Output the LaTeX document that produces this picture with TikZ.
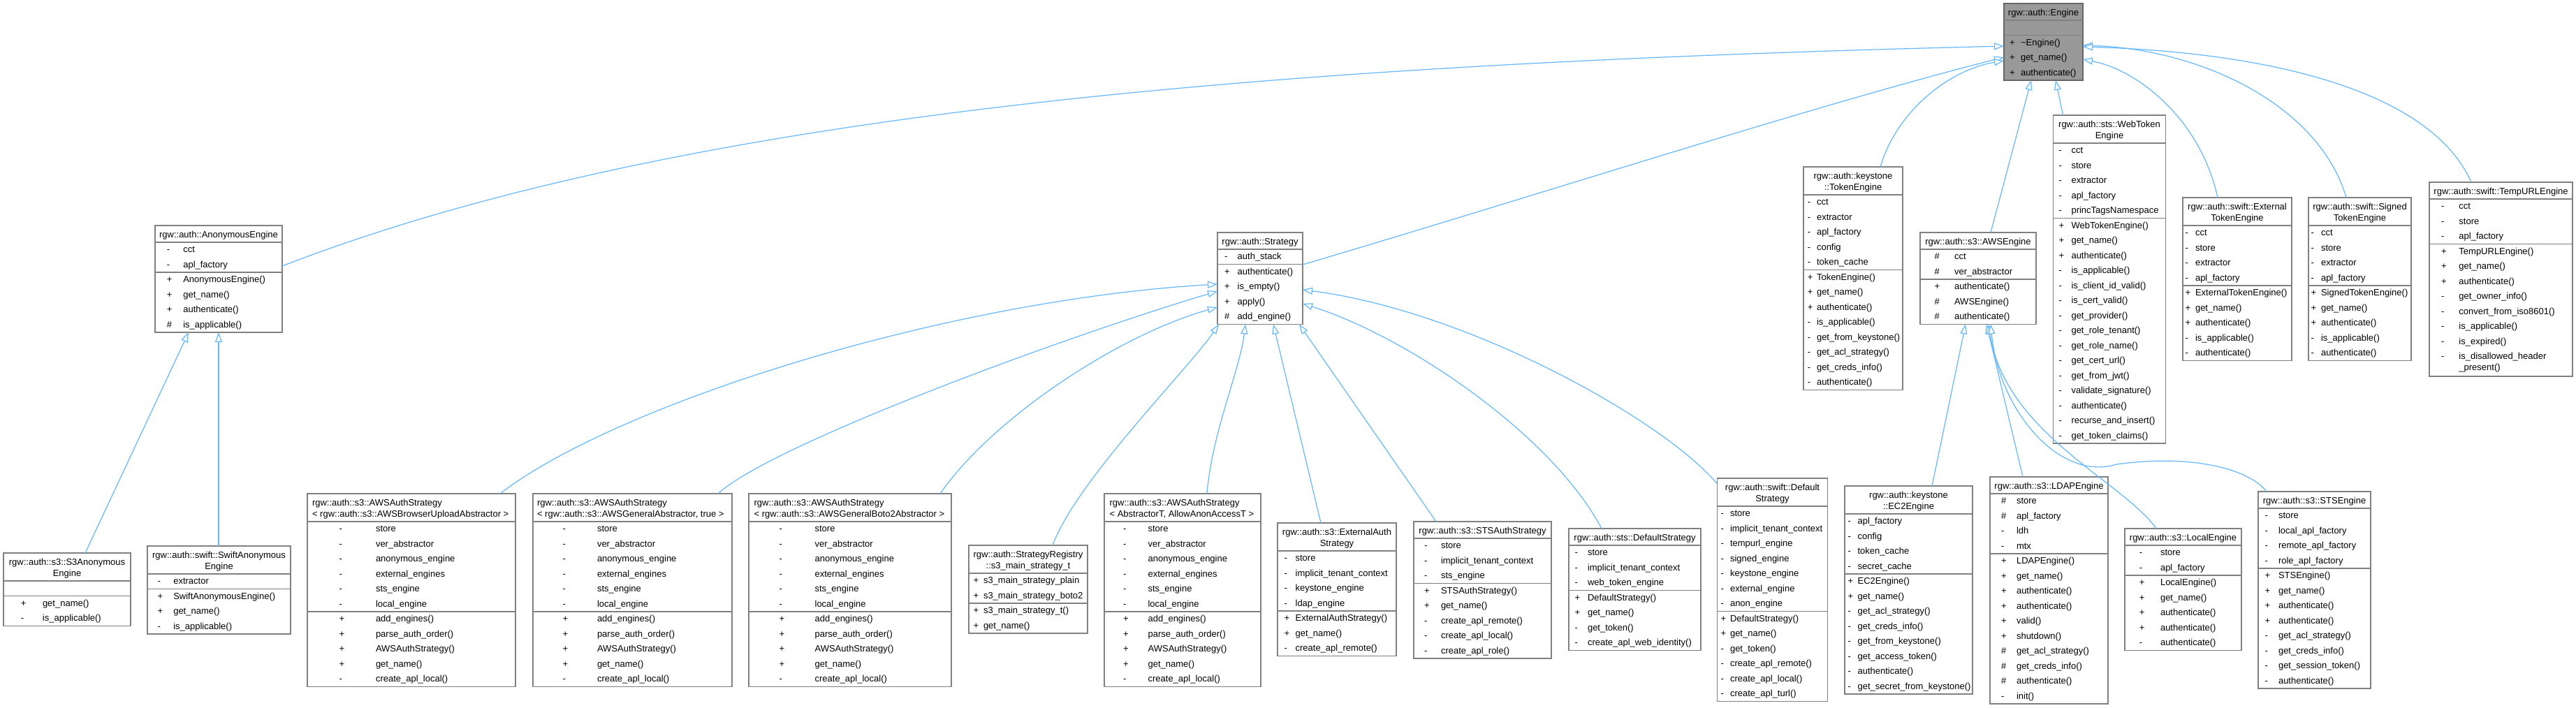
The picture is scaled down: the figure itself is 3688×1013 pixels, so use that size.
\documentclass[tikz,border=0pt]{standalone}
\usepackage{fontspec}
\setmainfont{Liberation Sans}
\usetikzlibrary{arrows.meta,calc}
\definecolor{edgec}{HTML}{63B8FF}
\definecolor{boxc}{HTML}{808080}
\definecolor{engfill}{HTML}{999999}
\definecolor{engborder}{HTML}{666666}
\tikzset{
 clsnode/.style={draw=boxc, line width=1.3pt, fill=white, inner sep=0pt, outer sep=0pt, rectangle},
 sepline/.style={draw=boxc, line width=1.3pt},
 txt/.style={inner sep=0pt, outer sep=0pt, font=\fontsize{13}{16}\selectfont, text=black},
 inh/.style={draw=edgec, line width=1.2pt, -{Triangle[fill=white, length=14pt, width=10pt]}},
}
% id, x, top, width, title height, nA, nM, extra height, extra style
\newcommand\clsbox[9]{%
  \def\cid{#1}\def\cx{#2}\def\ctop{#3}\def\cw{#4}%
  \pgfmathsetmacro\cnA{max(#6,1)}%
  \pgfmathsetmacro\cattrY{#3+#5}%
  \pgfmathsetmacro\cmethY{#3+#5+21.5*\cnA}%
  \pgfmathsetmacro\cH{#5+21.5*\cnA+21.5*#7+#8}%
  \node[clsnode, #9, minimum width=#4pt, minimum height=\cH pt, anchor=north west] (#1) at (#2,#3) {};
  \draw[sepline] (#2,\cattrY) -- ++(#4,0);
  \draw[sepline] (#2,\cmethY) -- ++(#4,0);
}
\newcommand\ttlS[1]{\node[txt, anchor=base] (\cid-t) at ({\cx+\cw/2},{\ctop+17}) {#1};}
\newcommand\ttlC[2]{%
  \node[txt, anchor=base] (\cid-t) at ({\cx+\cw/2},{\ctop+17.5}) {#1};
  \node[txt, anchor=base] (\cid-u) at ({\cx+\cw/2},{\ctop+33.5}) {#2};}
\newcommand\ttlL[3]{%
  \node[txt, anchor=base west] (\cid-t) at (#1,{\ctop+17.5}) {#2};
  \node[txt, anchor=base west] (\cid-u) at (#1,{\ctop+33.5}) {#3};}
\newcommand\attrs[3]{%
  \pgfmathsetmacro\cgap{#2-#1+3.5}%
  \foreach \sy/\nm [count=\i] in {#3} {
    \node[txt, anchor=base west] (\cid-a\i) at ({#1-3.5},{\cattrY+14.5+21.5*(\i-1)}) {\makebox[\cgap pt][l]{\sy}\nm};
  }}
\newcommand\meths[3]{%
  \pgfmathsetmacro\cgap{#2-#1+3.5}%
  \foreach \sy/\nm [count=\i] in {#3} {
    \node[txt, anchor=base west] (\cid-m\i) at ({#1-3.5},{\cmethY+14.5+21.5*(\i-1)}) {\makebox[\cgap pt][l]{\sy}\nm};
  }}
\begin{document}
\begin{tikzpicture}[x=1pt,y=-1pt]
\fill[white] (0,0) rectangle (3688,1013);
\useasboundingbox (0,0) rectangle (3688,1013);

% Engine
\clsbox{eng}{2869}{5}{113}{24}{0}{3}{0}{fill=engfill, draw=engborder}
\ttlS{rgw::auth::Engine}
\meths{2880.5}{2893}{+/\textasciitilde{}Engine(),+/get\_name(),+/authenticate()}

% AnonymousEngine
\clsbox{anon}{222}{323}{182}{24}{2}{4}{0}{}
\ttlS{rgw::auth::AnonymousEngine}
\attrs{242.3}{262.3}{-/cct,-/apl\_factory}
\meths{242.3}{262.3}{+/AnonymousEngine(),+/get\_name(),+/authenticate(),\#/is\_applicable()}

\clsbox{s3anon}{5}{792}{182}{40}{0}{2}{0}{}
\ttlC{rgw::auth::s3::S3Anonymous}{Engine}
\meths{33.3}{61}{+/get\_name(),-/is\_applicable()}

\clsbox{swanon}{211}{782}{205}{40}{1}{3}{0}{}
\ttlC{rgw::auth::swift::SwiftAnonymous}{Engine}
\attrs{229}{248.3}{-/extractor}
\meths{229}{248.3}{+/SwiftAnonymousEngine(),+/get\_name(),-/is\_applicable()}

% Strategy
\clsbox{strat}{1743}{333}{122}{24}{1}{4}{0}{}
\ttlS{rgw::auth::Strategy}
\attrs{1756.7}{1771.7}{-/auth\_stack}
\meths{1756.7}{1771.7}{+/authenticate(),+/is\_empty(),+/apply(),\#/add\_engine()}

\clsbox{awsb}{440}{707}{298}{40}{6}{5}{0}{}
\ttlL{447}{rgw::auth::s3::AWSAuthStrategy}{< rgw::auth::s3::AWSBrowserUploadAbstractor >}
\attrs{489}{538}{-/store,-/ver\_abstractor,-/anonymous\_engine,-/external\_engines,-/sts\_engine,-/local\_engine}
\meths{489}{538}{+/add\_engines(),+/parse\_auth\_order(),+/AWSAuthStrategy(),+/get\_name(),-/create\_apl\_local()}

\clsbox{awsg}{763}{707}{285}{40}{6}{5}{0}{}
\ttlL{769}{rgw::auth::s3::AWSAuthStrategy}{< rgw::auth::s3::AWSGeneralAbstractor, true >}
\attrs{809}{855}{-/store,-/ver\_abstractor,-/anonymous\_engine,-/external\_engines,-/sts\_engine,-/local\_engine}
\meths{809}{855}{+/add\_engines(),+/parse\_auth\_order(),+/AWSAuthStrategy(),+/get\_name(),-/create\_apl\_local()}

\clsbox{awsbo}{1072}{707}{290}{40}{6}{5}{0}{}
\ttlL{1079.6}{rgw::auth::s3::AWSAuthStrategy}{< rgw::auth::s3::AWSGeneralBoto2Abstractor >}
\attrs{1119}{1166.6}{-/store,-/ver\_abstractor,-/anonymous\_engine,-/external\_engines,-/sts\_engine,-/local\_engine}
\meths{1119}{1166.6}{+/add\_engines(),+/parse\_auth\_order(),+/AWSAuthStrategy(),+/get\_name(),-/create\_apl\_local()}

\clsbox{s3main}{1387}{781}{170}{40}{2}{2}{0}{}
\ttlC{rgw::auth::StrategyRegistry}{::s3\_main\_strategy\_t}
\attrs{1397}{1408}{+/s3\_main\_strategy\_plain,+/s3\_main\_strategy\_boto2}
\meths{1397}{1408}{+/s3\_main\_strategy\_t(),+/get\_name()}

\clsbox{awsat}{1581}{707}{224}{40}{6}{5}{0}{}
\ttlL{1588.6}{rgw::auth::s3::AWSAuthStrategy}{< AbstractorT, AllowAnonAccessT >}
\attrs{1611.6}{1643.6}{-/store,-/ver\_abstractor,-/anonymous\_engine,-/external\_engines,-/sts\_engine,-/local\_engine}
\meths{1611.6}{1643.6}{+/add\_engines(),+/parse\_auth\_order(),+/AWSAuthStrategy(),+/get\_name(),-/create\_apl\_local()}

\clsbox{extauth}{1829}{749}{170}{40}{4}{3}{0}{}
\ttlC{rgw::auth::s3::ExternalAuth}{Strategy}
\attrs{1842}{1854.6}{-/store,-/implicit\_tenant\_context,-/keystone\_engine,-/ldap\_engine}
\meths{1842}{1854.6}{+/ExternalAuthStrategy(),+/get\_name(),-/create\_apl\_remote()}

\clsbox{stsauth}{2024}{747}{197}{24}{3}{5}{0}{}
\ttlS{rgw::auth::s3::STSAuthStrategy}
\attrs{2042.7}{2063}{-/store,-/implicit\_tenant\_context,-/sts\_engine}
\meths{2042.7}{2063}{+/STSAuthStrategy(),+/get\_name(),-/create\_apl\_remote(),-/create\_apl\_local(),-/create\_apl\_role()}

\clsbox{stsdef}{2246}{757}{189}{24}{3}{4}{0}{}
\ttlS{rgw::auth::sts::DefaultStrategy}
\attrs{2258}{2273}{-/store,-/implicit\_tenant\_context,-/web\_token\_engine}
\meths{2258}{2273}{+/DefaultStrategy(),+/get\_name(),-/get\_token(),-/create\_apl\_web\_identity()}

\clsbox{swdef}{2458.5}{685}{158}{40}{7}{6}{0}{}
\ttlC{rgw::auth::swift::Default}{Strategy}
\attrs{2467}{2477}{-/store,-/implicit\_tenant\_context,-/tempurl\_engine,-/signed\_engine,-/keystone\_engine,-/external\_engine,-/anon\_engine}
\meths{2467}{2477}{+/DefaultStrategy(),+/get\_name(),-/get\_token(),-/create\_apl\_remote(),-/create\_apl\_local(),-/create\_apl\_turl()}

% Engine children (right part)
\clsbox{ktok}{2582}{239}{142}{40}{5}{8}{0}{}
\ttlC{rgw::auth::keystone}{::TokenEngine}
\attrs{2591.3}{2601}{-/cct,-/extractor,-/apl\_factory,-/config,-/token\_cache}
\meths{2591.3}{2601}{+/TokenEngine(),+/get\_name(),+/authenticate(),-/is\_applicable(),-/get\_from\_keystone(),-/get\_acl\_strategy(),-/get\_creds\_info(),-/authenticate()}

\clsbox{awse}{2749}{333}{166}{24}{2}{3}{0}{}
\ttlS{rgw::auth::s3::AWSEngine}
\attrs{2773}{2798}{\#/cct,\#/ver\_abstractor}
\meths{2773}{2798}{+/authenticate(),\#/AWSEngine(),\#/authenticate()}

\clsbox{webtok}{2939.5}{165}{161}{40}{5}{15}{0}{}
\ttlC{rgw::auth::sts::WebToken}{Engine}
\attrs{2951}{2965.5}{-/cct,-/store,-/extractor,-/apl\_factory,-/princTagsNamespace}
\meths{2951}{2965.5}{+/WebTokenEngine(),+/get\_name(),+/authenticate(),-/is\_applicable(),-/is\_client\_id\_valid(),-/is\_cert\_valid(),-/get\_provider(),-/get\_role\_tenant(),-/get\_role\_name(),-/get\_cert\_url(),-/get\_from\_jwt(),-/validate\_signature(),-/authenticate(),-/recurse\_and\_insert(),-/get\_token\_claims()}

\clsbox{exttok}{3125}{283}{156}{40}{4}{5}{0}{}
\ttlC{rgw::auth::swift::External}{TokenEngine}
\attrs{3132}{3143}{-/cct,-/store,-/extractor,-/apl\_factory}
\meths{3132}{3143}{+/ExternalTokenEngine(),+/get\_name(),+/authenticate(),-/is\_applicable(),-/authenticate()}

\clsbox{sigtok}{3305}{283}{147}{40}{4}{5}{0}{}
\ttlC{rgw::auth::swift::Signed}{TokenEngine}
\attrs{3312}{3323}{-/cct,-/store,-/extractor,-/apl\_factory}
\meths{3312}{3323}{+/SignedTokenEngine(),+/get\_name(),+/authenticate(),-/is\_applicable(),-/authenticate()}

\clsbox{tempurl}{3478}{261}{205}{24}{3}{8}{17.5}{}
\ttlS{rgw::auth::swift::TempURLEngine}
\attrs{3498.7}{3520.4}{-/cct,-/store,-/apl\_factory}
\meths{3498.7}{3520.4}{+/TempURLEngine(),+/get\_name(),+/authenticate(),-/get\_owner\_info(),-/convert\_from\_iso8601(),-/is\_applicable(),-/is\_expired(),-/is\_disallowed\_header}
\node[txt, anchor=base west] (tempurl-m9) at (3520.4,{\cmethY+14.5+21.5*7+16}) {\_present()};

% AWSEngine children
\clsbox{ec2}{2641}{696}{183}{40}{4}{8}{0}{}
\ttlC{rgw::auth::keystone}{::EC2Engine}
\attrs{2649}{2659.6}{-/apl\_factory,-/config,-/token\_cache,-/secret\_cache}
\meths{2649}{2659.6}{+/EC2Engine(),+/get\_name(),-/get\_acl\_strategy(),-/get\_creds\_info(),-/get\_from\_keystone(),-/get\_access\_token(),-/authenticate(),-/get\_secret\_from\_keystone()}

\clsbox{ldap}{2849}{683}{169}{24}{4}{10}{0}{}
\ttlS{rgw::auth::s3::LDAPEngine}
\attrs{2868.6}{2887}{\#/store,\#/apl\_factory,-/ldh,-/mtx}
\meths{2868.6}{2887}{+/LDAPEngine(),+/get\_name(),+/authenticate(),+/authenticate(),+/valid(),+/shutdown(),\#/get\_acl\_strategy(),\#/get\_creds\_info(),\#/authenticate(),-/init()}

\clsbox{local}{3042}{757}{167}{24}{2}{5}{0}{}
\ttlS{rgw::auth::s3::LocalEngine}
\attrs{3066.4}{3093}{-/store,-/apl\_factory}
\meths{3066.4}{3093}{+/LocalEngine(),+/get\_name(),+/authenticate(),+/authenticate(),-/authenticate()}

\clsbox{stseng}{3233}{704}{161}{24}{4}{8}{0}{}
\ttlS{rgw::auth::s3::STSEngine}
\attrs{3246}{3262}{-/store,-/local\_apl\_factory,-/remote\_apl\_factory,-/role\_apl\_factory}
\meths{3246}{3262}{+/STSEngine(),+/get\_name(),+/authenticate(),+/authenticate(),-/get\_acl\_strategy(),-/get\_creds\_info(),-/get\_session\_token(),-/authenticate()}

% ---------- inheritance connectors ----------
\draw[inh] ($(anon.north east)+(0,58)$) .. controls (1000,150) and (1900,90) .. ($(eng.north west)+(0,61)$);
\draw[inh] ($(strat.north east)+(0,46)$) .. controls (2200,280) and (2600,150) .. ($(eng.north west)+(0,77)$);
\draw[inh] ($(ktok.north west)+(110,0)$) .. controls (2715,160) and (2790,100) .. ($(eng.north west)+(0,82)$);
\draw[inh] ($(awse.north west)+(101,0)$) -- ($(eng.south west)+(39,0)$);
\draw[inh] ($(webtok.north west)+(14,0)$) -- ($(eng.south west)+(74,0)$);
\draw[inh] ($(exttok.north west)+(50,0)$) .. controls (3150,170) and (3060,100) .. ($(eng.north east)+(0,80)$);
\draw[inh] ($(sigtok.north west)+(54,0)$) .. controls (3320,150) and (3150,70) .. ($(eng.north east)+(0,60)$);
\draw[inh] ($(tempurl.north west)+(60,0)$) .. controls (3480,130) and (3250,75) .. ($(eng.north east)+(0,62)$);

\draw[inh] ($(s3anon.north west)+(117,0)$) -- ($(anon.south west)+(48,0)$);
\draw[inh] ($(swanon.north west)+(102,0)$) -- ($(anon.south west)+(91,0)$);

\draw[inh] ($(awsb.north west)+(276,0)$) .. controls (880,580) and (1350,430) .. ($(strat.north west)+(0,74)$);
\draw[inh] ($(awsg.north west)+(265,0)$) .. controls (1100,640) and (1500,490) .. ($(strat.north west)+(0,84)$);
\draw[inh] ($(awsbo.north west)+(274,0)$) .. controls (1420,600) and (1600,480) .. ($(strat.north west)+(0,107)$);
\draw[inh] ($(s3main.north west)+(120,0)$) .. controls (1540,690) and (1700,530) .. ($(strat.south west)+(2,0)$);
\draw[inh] ($(awsat.north west)+(147,0)$) .. controls (1735,620) and (1775,530) .. ($(strat.south west)+(40,0)$);
\draw[inh] ($(extauth.north west)+(62,0)$) -- ($(strat.south west)+(80,0)$);
\draw[inh] ($(stsauth.north west)+(32,0)$) -- ($(strat.south east)+(-5,0)$);
\draw[inh] ($(stsdef.north west)+(47,0)$) .. controls (2220,620) and (2010,480) .. ($(strat.north east)+(0,102)$);
\draw[inh] ($(swdef.north west)+(0,8)$) .. controls (2380,600) and (2100,445) .. ($(strat.north east)+(0,82)$);

\draw[inh] ($(ec2.north west)+(125,0)$) -- ($(awse.south west)+(65,0)$);
\draw[inh] ($(ldap.north west)+(47,0)$) -- ($(awse.south west)+(95,0)$);
\draw[inh] ($(local.north west)+(45,0)$) .. controls (3040,690) and (2870,620) .. ($(awse.south west)+(98,0)$);
\draw[inh] ($(stseng.north west)+(12,0)$) .. controls (3220,672) and (3140,650) .. (3030,665) .. controls (2950,690) and (2862,590) .. ($(awse.south west)+(101,0)$);
\end{tikzpicture}
\end{document}
